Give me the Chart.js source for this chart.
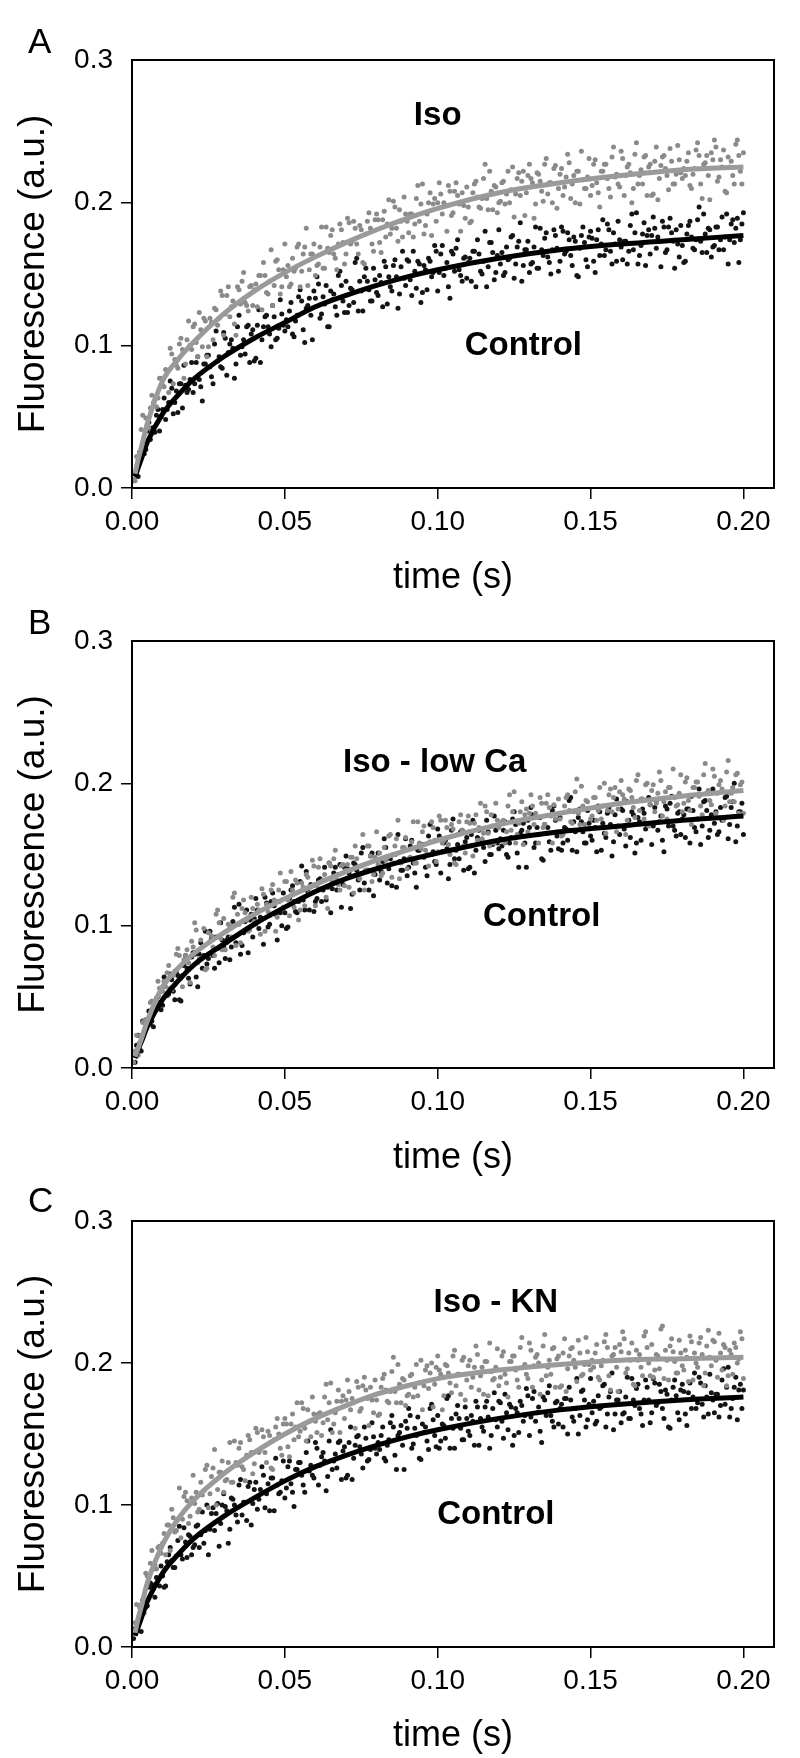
<!DOCTYPE html>
<html>
<head>
<meta charset="utf-8">
<title>Fluorescence vs time</title>
<script src="https://cdn.jsdelivr.net/npm/chart.js@4.4.1/dist/chart.umd.min.js"></script>
<style>
  html, body { margin: 0; padding: 0; background: #fff; }
  body { width: 800px; height: 1758px; position: relative; overflow: hidden; }
  canvas { position: absolute; left: 0; }
</style>
</head>
<body>
<canvas id="chartA" width="800" height="610" style="top:0px"></canvas>
<canvas id="chartB" width="800" height="610" style="top:580px"></canvas>
<canvas id="chartC" width="800" height="598" style="top:1160px"></canvas>
<script>
// axis ticks
const xTicks = [0, 0.05, 0.10, 0.15, 0.20];
const yTicks = [0, 0.1, 0.2, 0.3];

// sample times of the scattered recordings (ms), two interleaved sweeps
const timeMs = [
  1,2,3,4,5,6,7,8,9,10,11,12,13,14,15,16,17,18,19,20,
  21,22,23,24,25,26,27,28,29,30,31,32,33,34,35,36,37,38,39,40,
  41,42,43,44,45,46,47,48,49,50,51,52,53,54,55,56,57,58,59,60,
  61,62,63,64,65,66,67,68,69,70,71,72,73,74,75,76,77,78,79,80,
  81,82,83,84,85,86,87,88,89,90,91,92,93,94,95,96,97,98,99,100,
  101,102,103,104,105,106,107,108,109,110,111,112,113,114,115,116,117,118,119,120,
  121,122,123,124,125,126,127,128,129,130,131,132,133,134,135,136,137,138,139,140,
  141,142,143,144,145,146,147,148,149,150,151,152,153,154,155,156,157,158,159,160,
  161,162,163,164,165,166,167,168,169,170,171,172,173,174,175,176,177,178,179,180,
  181,182,183,184,185,186,187,188,189,190,191,192,193,194,195,196,197,198,199,200
];
const timeMs2 = [
  0.5,1.5,2.5,3.5,4.5,5.5,6.5,7.5,8.5,9.5,10.5,11.5,12.5,13.5,14.5,15.5,16.5,17.5,18.5,19.5,
  20.5,21.5,22.5,23.5,24.5,25.5,26.5,27.5,28.5,29.5,30.5,31.5,32.5,33.5,34.5,35.5,36.5,37.5,38.5,39.5,
  40.5,41.5,42.5,43.5,44.5,45.5,46.5,47.5,48.5,49.5,50.5,51.5,52.5,53.5,54.5,55.5,56.5,57.5,58.5,59.5,
  60.5,61.5,62.5,63.5,64.5,65.5,66.5,67.5,68.5,69.5,70.5,71.5,72.5,73.5,74.5,75.5,76.5,77.5,78.5,79.5,
  80.5,81.5,82.5,83.5,84.5,85.5,86.5,87.5,88.5,89.5,90.5,91.5,92.5,93.5,94.5,95.5,96.5,97.5,98.5,99.5,
  100.5,101.5,102.5,103.5,104.5,105.5,106.5,107.5,108.5,109.5,110.5,111.5,112.5,113.5,114.5,115.5,116.5,117.5,118.5,119.5,
  120.5,121.5,122.5,123.5,124.5,125.5,126.5,127.5,128.5,129.5,130.5,131.5,132.5,133.5,134.5,135.5,136.5,137.5,138.5,139.5,
  140.5,141.5,142.5,143.5,144.5,145.5,146.5,147.5,148.5,149.5,150.5,151.5,152.5,153.5,154.5,155.5,156.5,157.5,158.5,159.5,
  160.5,161.5,162.5,163.5,164.5,165.5,166.5,167.5,168.5,169.5,170.5,171.5,172.5,173.5,174.5,175.5,176.5,177.5,178.5,179.5,
  180.5,181.5,182.5,183.5,184.5,185.5,186.5,187.5,188.5,189.5,190.5,191.5,192.5,193.5,194.5,195.5,196.5,197.5,198.5,199.5
];

// fluorescence readings, in 1e-3 a.u.
const ctrlA = [
  10,8,24,24,40,34,42,51,40,55, 48,60,70,60,53,73,86,67,76,67,
  88,76,61,87,93,78,101,89,85,109, 79,101,98,87,121,99,94,114,108,89,
  114,88,113,121,108,128,104,112,122,110, 113,130,106,121,139,111,126,133,104,133,
  143,122,129,113,138,136,121,152,131,145, 128,139,158,124,138,148,145,131,154,137,
  149,127,155,148,138,160,126,155,147,160, 146,166,140,157,137,153,161,148,170,138,
  164,149,158,133,164,168,153,145,162,158, 145,166,174,152,159,141,172,165,151,181,
  165,151,160,176,147,169,186,156,167,151, 158,183,154,167,175,162,150,181,168,159,
  180,166,174,156,173,148,177,172,155,180, 159,174,163,188,167,181,157,171,187,169,
  173,157,184,167,193,163,178,156,181,177, 182,176,155,183,167,189,173,181,162,170,
  159,184,176,167,188,173,192,165,181,169, 183,167,190,176,157,185,172,189,174,193
];
const ctrlA2 = [
  5,9,25,28,27,46,42,39,55,50, 63,55,75,52,68,73,56,72,69,88,
  73,92,71,87,93,85,73,110,92,84, 105,95,104,77,113,93,104,113,88,111,
  91,125,104,120,113,99,120,105,132,114, 118,124,108,117,134,131,102,128,121,138,
  148,119,134,142,113,132,127,149,142,123, 123,140,130,161,145,124,154,139,131,146,
  135,144,159,129,141,156,148,136,166,142, 159,135,152,159,130,156,139,159,151,166,
  151,170,154,141,166,152,174,149,161,147, 161,166,141,164,150,180,155,172,146,163,
  157,149,169,161,177,157,173,145,167,173, 157,169,154,182,163,179,158,167,177,152,
  183,164,179,163,176,149,168,183,160,176, 175,151,181,171,163,185,166,179,159,174,
  160,173,166,192,179,157,170,186,177,164, 190,168,173,187,165,183,179,154,171,184,
  158,178,187,168,174,197,165,178,182,162, 170,183,174,167,192,174,188,182,158,185
];
const isoA = [
  5,21,41,29,44,56,60,57,77,72, 83,67,94,90,84,105,77,104,100,113,
  102,123,99,117,99,116,126,114,138,107, 135,120,131,107,139,145,130,124,142,139,
  127,149,158,137,145,128,159,153,141,171, 156,143,152,169,141,164,182,153,164,149,
  157,183,154,168,177,164,153,185,172,164, 186,173,182,164,181,157,187,182,166,192,
  172,188,176,202,182,197,173,187,204,187, 192,176,203,187,213,184,200,177,203,200,
  206,200,180,208,193,214,199,207,189,197, 187,213,204,196,217,203,222,195,211,200,
  214,199,222,209,190,217,205,222,207,227, 214,199,220,208,227,206,214,224,196,220,
  205,218,228,213,200,222,236,210,218,205, 227,214,197,222,227,210,232,218,213,236,
  205,225,221,210,242,219,213,233,225,205, 229,202,226,233,219,238,213,220,230,217,
  219,235,210,224,242,213,227,233,202,230, 239,218,225,208,232,229,213,244,222,235
];
const isoA2 = [
  6,22,24,51,49,42,65,62,63,77, 71,82,98,73,86,101,97,87,117,97,
  115,92,111,119,92,119,104,125,119,135, 122,141,127,115,141,129,151,128,141,128,
  143,149,125,149,136,167,142,160,136,153, 148,141,161,154,171,152,169,142,164,171,
  156,169,154,183,165,181,161,171,181,157, 189,171,187,171,184,158,178,193,171,188,
  188,165,194,185,178,201,182,195,176,192, 179,192,185,212,199,178,192,207,199,187,
  214,192,198,212,191,208,205,180,198,211, 186,207,215,197,203,227,195,208,212,193,
  201,215,206,200,225,206,221,215,191,219, 217,189,221,215,201,231,214,200,226,210,
  224,211,234,203,219,222,199,216,210,231, 212,230,207,222,227,217,204,239,220,211,
  231,219,227,200,234,213,223,232,205,227, 206,239,217,232,224,209,229,213,240,221,
  224,229,212,220,237,233,203,228,219,235, 244,215,230,237,207,225,219,241,233,213
];
const ctrlB = [
  4,23,12,25,34,31,29,49,46,44, 61,52,62,48,65,47,72,70,59,81,
  64,80,70,96,77,92,70,84,102,85, 90,76,103,88,115,86,103,81,108,105,
  111,106,87,116,101,123,108,117,100,109, 99,125,117,109,131,118,138,111,128,117,
  132,117,141,127,109,137,125,143,129,149, 137,122,143,132,151,130,139,149,121,146,
  132,145,155,140,128,150,164,139,147,135, 156,144,127,153,157,141,163,150,145,168,
  137,158,154,143,175,153,147,167,159,140, 164,137,162,168,155,174,150,157,167,154,
  156,173,148,162,180,151,165,172,141,169, 178,158,164,147,171,169,153,184,163,176,
  158,168,188,153,166,176,173,158,181,163, 174,152,180,172,162,183,149,178,170,182,
  168,187,162,178,158,173,182,168,190,157, 183,167,177,152,182,186,170,163,180,175,
  162,182,191,169,175,157,187,181,167,196, 180,166,174,190,161,183,200,170,180,164
];
const ctrlB2 = [
  4,16,13,33,28,40,33,42,50,41, 64,51,66,54,67,48,65,79,63,78,
  80,57,88,79,73,96,79,92,74,90, 77,92,85,113,101,80,95,111,104,92,
  119,98,105,120,99,117,114,90,109,123, 98,119,128,110,117,142,111,124,129,110,
  119,133,125,118,144,126,141,136,113,141, 140,112,144,139,125,155,139,125,151,136,
  151,138,161,130,147,150,127,145,139,161, 141,160,137,153,157,148,135,171,152,143,
  163,152,160,133,167,147,157,166,139,162, 141,174,153,167,160,145,166,150,177,158,
  161,167,150,158,175,171,141,167,158,174, 183,155,169,176,146,165,159,181,174,154,
  153,169,160,190,173,152,182,166,158,172, 160,169,184,153,165,179,171,159,189,164,
  181,156,174,180,151,176,160,179,171,185, 170,188,173,160,184,170,191,167,179,164,
  178,182,158,181,166,196,170,188,162,178, 172,164,183,175,191,171,187,159,180,186
];
const isoB = [
  12,9,23,33,32,46,39,47,56,54, 57,72,55,68,84,63,76,83,60,85,
  97,77,85,69,95,93,79,111,91,105, 88,100,120,86,101,112,109,96,120,103,
  115,94,122,115,107,129,96,125,118,131, 118,138,113,130,111,127,136,123,146,114,
  141,126,136,112,142,147,132,125,143,139, 127,148,156,135,142,125,156,149,136,166,
  151,137,146,163,134,156,174,144,155,140, 148,173,144,158,166,153,142,173,160,152,
  174,160,169,150,168,143,173,167,151,177, 156,172,160,186,165,180,156,170,186,169,
  173,158,184,167,194,164,180,157,182,179, 184,179,158,186,171,192,177,185,166,175,
  164,190,181,172,194,179,198,171,187,175, 190,174,197,184,165,192,180,197,182,202,
  189,174,195,183,202,181,189,199,170,195, 180,193,202,187,175,197,210,184,193,180,
  201,188,171,197,201,184,206,193,188,210, 179,199,196,184,216,193,187,207,199,179
];
const isoB2 = [
  4,23,18,32,34,32,47,44,61,56, 61,67,56,65,80,79,57,79,74,89,
  102,74,90,98,70,89,85,108,102,83, 83,101,92,123,108,88,118,104,97,112,
  101,111,126,96,110,125,118,106,137,113, 131,107,125,132,104,130,114,134,127,142,
  128,147,132,120,144,131,153,129,142,128, 143,148,123,147,133,164,139,156,131,148,
  143,135,155,148,164,144,161,133,155,162, 147,159,144,173,154,170,150,159,169,145,
  177,158,174,157,171,144,164,178,156,173, 172,149,178,169,161,184,165,178,158,174,
  160,174,166,192,180,158,172,187,178,166, 192,171,176,190,169,186,183,158,175,189,
  163,184,192,173,180,203,171,184,188,168, 177,190,181,175,200,181,196,190,166,194,
  192,164,196,190,176,206,189,175,200,185, 199,186,208,177,194,197,173,190,185,206,
  186,204,181,197,201,191,178,214,195,185, 205,193,202,174,208,187,197,206,179,201
];
const ctrlC = [
  13,16,11,31,29,45,41,49,43,50, 43,65,61,56,75,65,84,63,78,70,
  85,70,95,82,65,94,82,101,87,108, 96,83,104,93,114,93,102,113,86,111,
  97,111,121,108,96,119,133,108,117,105, 127,115,99,125,130,114,137,124,121,144,
  114,134,131,120,153,131,126,145,138,119, 144,118,142,149,136,155,131,139,148,136,
  139,155,131,146,163,135,149,156,125,154, 163,143,149,133,157,155,139,171,149,163,
  145,156,175,140,154,164,161,146,169,152, 163,142,169,161,152,173,140,168,160,173,
  159,178,153,169,149,165,173,159,182,149, 175,159,169,144,174,179,163,155,173,168,
  155,175,183,162,168,150,180,174,160,189, 173,159,168,184,155,176,193,164,174,158,
  165,190,161,174,182,168,156,188,174,165, 186,172,180,161,178,154,183,177,160,185,
  164,179,168,193,172,186,162,176,192,174, 178,162,188,171,197,168,183,160,185,181
];
const ctrlC2 = [
  6,12,20,33,28,42,44,35,48,57, 42,60,70,56,64,85,62,74,79,65,
  72,86,79,73,100,83,98,94,71,100, 99,73,105,100,88,118,102,89,116,101,
  116,104,127,98,115,119,96,114,109,131, 112,131,109,125,130,121,109,145,128,119,
  140,128,137,110,145,125,136,144,118,141, 121,155,133,148,141,126,147,132,158,140,
  144,149,133,142,158,155,125,151,142,159, 168,140,154,162,132,151,145,168,160,141,
  140,157,147,177,161,140,170,154,146,161, 149,159,173,142,155,169,162,149,179,155,
  172,147,165,171,142,168,151,170,163,177, 162,180,165,152,176,163,184,159,172,157,
  171,175,150,174,159,189,163,181,155,171, 165,157,177,169,185,164,180,153,174,180,
  164,176,161,189,170,185,164,174,183,158, 189,170,185,168,181,155,174,188,165,181,
  180,156,186,176,168,190,171,184,164,179, 165,178,170,196,183,162,175,190,181,168
];
const isoC = [
  17,17,30,24,50,59,55,55,71,73, 65,86,97,81,90,77,106,103,92,121,
  109,97,107,125,98,120,139,111,123,109, 118,144,116,130,140,127,117,149,137,129,
  151,139,148,130,149,125,155,150,135,161, 141,157,146,172,152,168,145,159,176,159,
  164,149,176,160,186,157,173,151,177,174, 180,175,154,183,168,190,175,183,165,174,
  164,189,181,172,194,180,199,172,188,177, 191,176,199,186,167,195,182,200,185,205,
  192,177,198,186,205,184,192,202,174,198, 183,197,206,191,178,201,214,188,197,184,
  205,192,176,201,205,188,211,197,192,214, 183,204,200,188,220,197,192,211,203,183,
  207,180,205,211,197,216,191,199,208,195, 197,213,188,202,220,191,205,211,180,208,
  217,196,202,185,209,206,191,222,200,213, 195,205,224,189,202,212,208,193,216,198,
  209,187,215,207,197,218,184,212,204,216, 202,221,195,211,191,206,214,200,222,189
];
const isoC2 = [
  9,30,28,29,52,49,68,58,70,66, 80,86,68,91,82,112,90,109,87,105,
  101,95,116,110,128,108,126,100,123,131, 117,130,116,145,128,144,125,135,146,122,
  154,137,153,137,152,126,146,161,140,157, 157,134,164,155,148,172,154,167,148,164,
  151,165,158,185,172,151,165,181,173,161, 188,167,172,187,166,184,181,156,174,188,
  163,183,192,173,180,204,172,185,189,170, 178,192,183,177,202,184,198,193,169,197,
  195,167,199,193,179,209,192,178,204,188, 202,190,212,181,197,201,177,194,189,210,
  190,208,186,201,205,195,183,218,199,189, 209,198,206,178,212,191,202,210,183,205,
  184,217,196,210,202,187,207,192,218,199, 202,207,190,198,215,211,181,206,197,213,
  222,193,207,214,184,202,197,219,211,191, 190,206,196,226,209,188,217,201,193,207,
  195,204,219,188,200,214,206,193,223,198, 215,190,207,213,184,209,192,211,203,217
];

// fitted curves, read at these times (ms), in 1e-3 a.u.
const fitTimeMs = [1,2,3,5,10,15,20,30,40,50,60,70,80,90,100,120,140,160,180,200];
const ctrlFitA = [8,14,20,32,52,65,76,92,105,116,127,135,142,148,153,161,167,171,174,177];
const isoFitA  = [10,20,28,45,75,90,102,122,138,151,162,172,181,189,196,207,214,219,223,225];
const ctrlFitB = [7,13,18,29,48,61,72,87,101,113,124,133,140,146,151,160,166,170,174,177];
const isoFitB  = [8,14,20,33,57,70,80,95,108,119,129,138,146,153,160,171,179,186,191,195];
const ctrlFitC = [8,14,20,32,52,65,76,92,105,117,127,135,142,148,153,161,167,171,174,176];
const isoFitC  = [10,20,28,45,72,90,103,122,137,150,161,170,178,184,189,195,199,202,203,204];

const FONT = '"Liberation Sans", Arial, Helvetica, sans-serif';
const GRAY_DOT = '#8a8a8a';
const GRAY_LINE = '#9a9a9a';
const BLACK_DOT = '#141414';
const BLACK_LINE = '#000000';

Chart.defaults.color = '#000';
Chart.defaults.font.family = FONT;

function toPoints(times, vals) {
  return times.map((t, i) => ({ x: t / 1000, y: vals[i] / 1000 }));
}

// frame box, panel letter and in-plot labels
const framePlugin = {
  id: 'frame',
  afterDatasetsDraw(chart, args, opts) {
    const { ctx, chartArea: a, scales } = chart;
    ctx.save();
    ctx.strokeStyle = '#000';
    ctx.lineWidth = 2;
    ctx.strokeRect(a.left, a.top, a.right - a.left, a.bottom - a.top);

    ctx.fillStyle = '#000';
    ctx.font = '35px ' + FONT;
    ctx.textAlign = 'left';
    ctx.textBaseline = 'alphabetic';
    ctx.fillText(opts.letter, 28, opts.letterY);

    ctx.font = 'bold 33px ' + FONT;
    ctx.textAlign = 'center';
    ctx.textBaseline = 'middle';
    opts.notes.forEach(n => {
      ctx.fillText(n.text, scales.x.getPixelForValue(n.t), scales.y.getPixelForValue(n.v));
    });
    ctx.restore();
  }
};

const panels = [
  { id: 'chartA', letter: 'A', letterY: 53, top: 60, xAxisH: 122, titlePad: 10,
    ctrl: [ctrlA, ctrlA2], iso: [isoA, isoA2], ctrlFit: ctrlFitA, isoFit: isoFitA,
    notes: [{ text: 'Iso', t: 0.100, v: 0.261 }, { text: 'Control', t: 0.128, v: 0.0995 }] },
  { id: 'chartB', letter: 'B', letterY: 54, top: 61, xAxisH: 122, titlePad: 10,
    ctrl: [ctrlB, ctrlB2], iso: [isoB, isoB2], ctrlFit: ctrlFitB, isoFit: isoFitB,
    notes: [{ text: 'Iso - low Ca', t: 0.099, v: 0.2145 }, { text: 'Control', t: 0.134, v: 0.106 }] },
  { id: 'chartC', letter: 'C', letterY: 52, top: 61, xAxisH: 111, titlePad: 0,
    ctrl: [ctrlC, ctrlC2], iso: [isoC, isoC2], ctrlFit: ctrlFitC, isoFit: isoFitC,
    notes: [{ text: 'Iso - KN', t: 0.119, v: 0.242 }, { text: 'Control', t: 0.119, v: 0.093 }] }
];

panels.forEach(p => {
  const ctrlPts = toPoints(timeMs, p.ctrl[0]).concat(toPoints(timeMs2, p.ctrl[1]));
  const isoPts = toPoints(timeMs, p.iso[0]).concat(toPoints(timeMs2, p.iso[1]));
  new Chart(document.getElementById(p.id), {
    type: 'scatter',
    data: {
      datasets: [
        { label: 'Iso fit', data: toPoints(fitTimeMs, p.isoFit), showLine: true,
          borderColor: GRAY_LINE, borderWidth: 5, pointRadius: 0,
          cubicInterpolationMode: 'monotone', order: 1 },
        { label: 'Control fit', data: toPoints(fitTimeMs, p.ctrlFit), showLine: true,
          borderColor: BLACK_LINE, borderWidth: 5, pointRadius: 0,
          cubicInterpolationMode: 'monotone', order: 2 },
        { label: 'Iso', data: isoPts, backgroundColor: GRAY_DOT,
          pointRadius: 2.5, pointBorderWidth: 0, order: 3 },
        { label: 'Control', data: ctrlPts, backgroundColor: BLACK_DOT,
          pointRadius: 2.5, pointBorderWidth: 0, order: 4 }
      ]
    },
    options: {
      responsive: false,
      animation: false,
      events: [],
      layout: { padding: { top: p.top, right: 26, left: 0, bottom: 0 } },
      plugins: {
        legend: { display: false },
        tooltip: { enabled: false },
        frame: { letter: p.letter, letterY: p.letterY, notes: p.notes }
      },
      scales: {
        x: {
          type: 'linear',
          min: 0,
          max: 0.21,
          afterBuildTicks: s => { s.ticks = xTicks.map(v => ({ value: v })); },
          afterFit: s => { s.height = p.xAxisH; },
          border: { display: false },
          grid: { drawOnChartArea: false, tickLength: 11, color: '#000', lineWidth: 1.5 },
          ticks: {
            autoSkip: false, maxRotation: 0, padding: 6,
            font: { size: 28 },
            callback: v => v.toFixed(2)
          },
          title: {
            display: true, text: 'time (s)',
            font: { size: 36 },
            padding: { top: 0, bottom: p.titlePad }
          }
        },
        y: {
          type: 'linear',
          min: 0,
          max: 0.3,
          afterBuildTicks: s => { s.ticks = yTicks.map(v => ({ value: v })); },
          afterFit: s => { s.width = 132; },
          border: { display: false },
          grid: {
            drawOnChartArea: false, tickLength: 11, color: '#000', lineWidth: 1.5,
            tickColor: c => (c.tick && c.tick.value === 0.3) ? 'rgba(0,0,0,0)' : '#000'
          },
          ticks: {
            padding: 8,
            font: { size: 28 },
            callback: v => v.toFixed(1)
          },
          title: {
            display: true, text: 'Fluorescence (a.u.)',
            font: { size: 37 },
            padding: { top: 12, bottom: 0 }
          }
        }
      }
    },
    plugins: [framePlugin]
  });
});
</script>
</body>
</html>
